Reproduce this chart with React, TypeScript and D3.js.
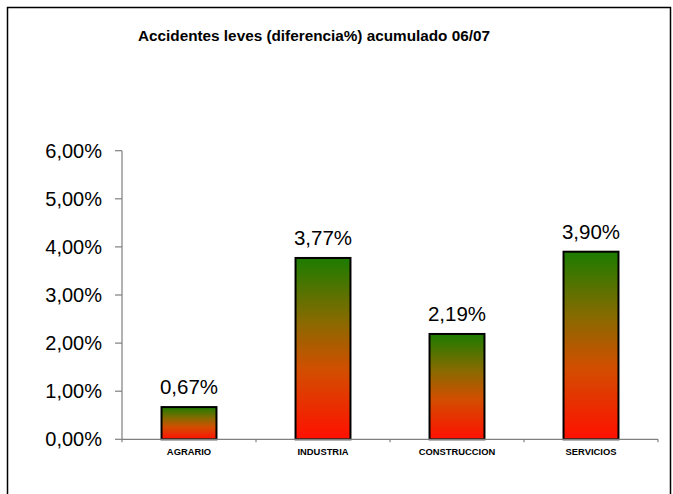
import React from "react";
import * as d3 from "d3";

const categories = ["AGRARIO", "INDUSTRIA", "CONSTRUCCION", "SERVICIOS"];
const values = [0.67, 3.77, 2.19, 3.9];
const yTicks = [0, 1, 2, 3, 4, 5, 6];
const title = "Accidentes leves (diferencia%) acumulado 06/07";

const W = 673;
const H = 494;
const fmt = (v: number) => v.toFixed(2).replace(".", ",") + "%";

export default function App() {
  const x = d3
    .scaleBand<string>()
    .domain(categories)
    .range([122, 658])
    .paddingInner(0.59)
    .paddingOuter(0.295);
  const y = d3.scaleLinear().domain([0, 6]).range([439.3, 150.7]);
  const font = "Arial, 'Liberation Sans', sans-serif";
  const axisColor = "#7f7f7f";
  const boundaries = [0, 1, 2, 3, 4].map((i) => 122 + i * x.step());

  return (
    <svg
      width={W}
      height={H}
      style={{ position: "absolute", left: 0, top: 0, background: "#fff" }}
      fontFamily={font}
    >
      <defs>
        <linearGradient id="barGrad" x1="0" y1="0" x2="0" y2="1">
          <stop offset="0" stopColor="#1c7c00" />
          <stop offset="0.35" stopColor="#896a00" />
          <stop offset="0.62" stopColor="#d24e00" />
          <stop offset="1" stopColor="#ff1000" />
        </linearGradient>
      </defs>
      <rect x={0} y={0} width={W} height={H} fill="#fff" />
      {/* outer frame */}
      <path d={`M7.5,${H} V7.5 H670.5 V${H}`} fill="none" stroke="#000" strokeWidth={1.5} />
      <text
        x={314}
        y={41}
        textAnchor="middle"
        fontSize={14}
        fontWeight="bold"
        fill="#000"
        textLength={352}
        lengthAdjust="spacingAndGlyphs"
      >
        {title}
      </text>
      {/* y axis */}
      <line x1={122} x2={122} y1={y(6)} y2={y(0)} stroke={axisColor} strokeWidth={1.2} />
      {yTicks.map((t) => (
        <g key={t}>
          <line x1={115} x2={122} y1={y(t)} y2={y(t)} stroke={axisColor} strokeWidth={1.2} />
          <text x={102} y={y(t) + 7} textAnchor="end" fontSize={20} fill="#000">
            {fmt(t)}
          </text>
        </g>
      ))}
      {/* bars */}
      {categories.map((c, i) => (
        <g key={c}>
          <rect
            x={x(c)!}
            y={y(values[i])}
            width={x.bandwidth()}
            height={y(0) - y(values[i])}
            fill="url(#barGrad)"
            stroke="#000"
            strokeWidth={2}
          />
          <text
            x={x(c)! + x.bandwidth() / 2}
            y={y(values[i]) - 13}
            textAnchor="middle"
            fontSize={20.5}
            fill="#000"
          >
            {fmt(values[i])}
          </text>
          <text
            x={x(c)! + x.bandwidth() / 2}
            y={455}
            textAnchor="middle"
            fontSize={9.4}
            fontWeight="bold"
            fill="#000"
          >
            {c}
          </text>
        </g>
      ))}
      {/* x axis */}
      <line x1={122} x2={658} y1={y(0)} y2={y(0)} stroke={axisColor} strokeWidth={1.2} />
      {boundaries.map((b, i) => (
        <line key={i} x1={b} x2={b} y1={y(0)} y2={y(0) + 3} stroke={axisColor} strokeWidth={1.2} />
      ))}
    </svg>
  );
}
